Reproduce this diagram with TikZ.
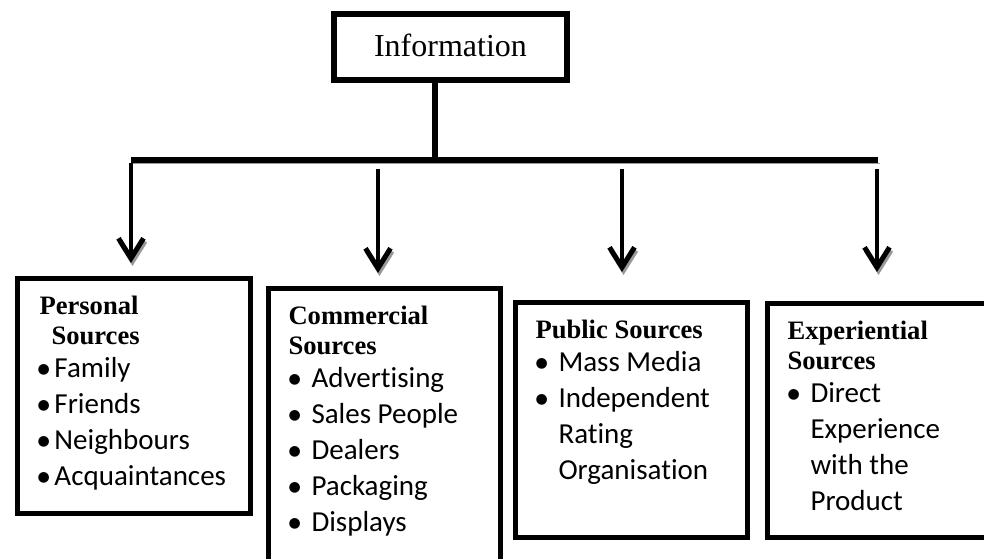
\documentclass[tikz,border=0pt]{standalone}
\usepackage{fontspec}
\setmainfont{Liberation Serif}
\newfontfamily\listfont[Ligatures=NoCommon]{Carlito}
\newfontfamily\dotfont{DejaVu Sans}
\usetikzlibrary{arrows.meta}

\tikzset{
  topbox/.style={draw, line width=6pt, minimum width=233pt, minimum height=66pt,
    inner sep=0pt, font=\fontsize{32}{36}\selectfont},
  srcbox/.style={draw, line width=5pt, anchor=north west, inner xsep=20.5pt, inner ysep=0pt},
  trunk/.style={line width=6pt},
  branch/.style={line width=4pt, -{Straight Barb[length=20pt,width=25pt,line width=5pt]}},
  shade/.style={preaction={draw=black!40, transform canvas={shift={(1.5pt,-3pt)}}}}
}

% box contents
\newcommand{\srcbody}[3]{\parbox[t][#1][t]{#2}{\raggedright #3}}
\newcommand{\srchead}[1]{{\fontsize{26.6}{30}\selectfont\bfseries\rule{0pt}{36pt}#1\par}\vspace{-3pt}}
\newcommand{\srcdot}{\raisebox{4pt}{\dotfont\fontsize{14}{14}\selectfont ●}}
\newcommand{\srcitem}[2][23pt]{{\listfont\fontsize{29}{36}\selectfont
  \hangindent=23pt\hangafter=1\noindent\makebox[#1][l]{\srcdot}#2\par}}

\begin{document}
\begin{tikzpicture}[x=1pt,y=-1pt]
        \useasboundingbox (0,0) rectangle (984,558);
        \clip (0,0) rectangle (984,558);

        % Coordinates
        \coordinate (hub) at (435,160);
        \coordinate (bl) at (131,160);
        \coordinate (br) at (878,160);
        \coordinate (a2) at (378,169);
        \coordinate (a3) at (622,169);
        \coordinate (a4) at (877,169);

        % Top box
        \node[topbox] (info) at (450.5,47) {\raisebox{3pt}{Information}};

        % Source boxes
        \node[srcbox] (p1) at (14.5,275.5) {\srcbody{235pt}{192pt}{%
            \srchead{\hspace*{2pt}Personal\\\hspace*{14pt}Sources}
            \srcitem[17pt]{Family}
            \srcitem[17pt]{Friends}
            \srcitem[17pt]{Neighbours}
            \srcitem[17pt]{Acquaintances}}};
        \node[srcbox] (p2) at (265.5,285.5) {\srcbody{300pt}{191pt}{%
            \srchead{Commercial\\Sources}
            \srcitem{Advertising}
            \srcitem{Sales People}
            \srcitem{Dealers}
            \srcitem{Packaging}
            \srcitem{Displays}}};
        \node[srcbox] (p3) at (512.5,299.5) {\srcbody{235pt}{191pt}{%
            \srchead{Public Sources}
            \srcitem{Mass Media}
            \srcitem{Independent\newline Rating\newline Organisation}}};
        \node[srcbox] (p4) at (764.5,300.5) {\srcbody{234pt}{191pt}{%
            \srchead{Experiential\\Sources}
            \srcitem{Direct\newline Experience\newline with the\newline Product}}};

        % Trunk and bar
        \draw[trunk] (hub |- info.south) -- (hub);
        \draw[trunk, shade] (bl) -- (br);

        % Arrows
        \draw[branch, shade, shorten >=12.5pt] ([yshift=-3pt]bl) -- (bl |- p1.north);
        \draw[branch, shade, shorten >=12.5pt] (a2) -- (a2 |- p2.north);
        \draw[branch, shade, shorten >=27.5pt] (a3) -- (a3 |- p3.north);
        \draw[branch, shade, shorten >=28.5pt] (a4) -- (a4 |- p4.north);
    \end{tikzpicture}
\end{document}
